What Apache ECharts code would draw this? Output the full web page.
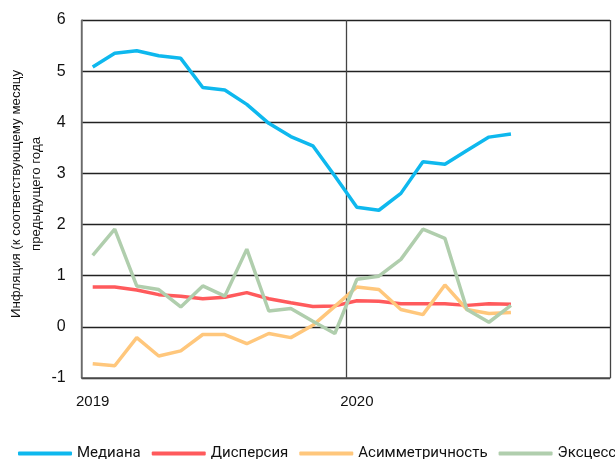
<!DOCTYPE html>
<html><head><meta charset="utf-8">
<script src="https://cdn.jsdelivr.net/npm/echarts@6/dist/echarts.min.js"></script>
<style>html,body{margin:0;padding:0;background:#fff}#c{width:615px;height:459px}</style>
</head><body><div id="c"></div>
<script>
const months = ['2019','','','','','','','','','','','','2020','','','','','','','','','','',''];
const mediana = [5.08,5.35,5.40,5.30,5.25,4.68,4.63,4.35,3.98,3.72,3.54,2.95,2.34,2.28,2.61,3.23,3.18,3.45,3.71,3.77];
const dispersiya = [0.78,0.78,0.72,0.63,0.60,0.55,0.58,0.67,0.55,0.47,0.40,0.41,0.51,0.50,0.45,0.45,0.45,0.42,0.45,0.44];
const asimm = [-0.72,-0.76,-0.21,-0.57,-0.47,-0.15,-0.15,-0.33,-0.13,-0.21,0.03,0.40,0.78,0.73,0.34,0.24,0.82,0.34,0.26,0.28];
const ekscess = [1.40,1.91,0.80,0.73,0.39,0.80,0.60,1.52,0.31,0.36,0.11,-0.13,0.93,0.99,1.32,1.91,1.73,0.34,0.09,0.42];
const seriesNames = ['Медиана','Дисперсия','Асимметричность','Эксцесс'];
const colors = ['#0EB8EE','#FF5A5C','#FFC77C','#B0CEAD'];
const yName = 'Инфляция (к соответствующему месяцу\nпредыдущего года';

const chart = echarts.init(document.getElementById('c'));
const mk = (i, d) => ({
  name: seriesNames[i], type: 'line', data: d, xAxisIndex: 0,
  symbol: 'none', smooth: false,
  lineStyle: {color: colors[i], width: 3.5}, itemStyle: {color: colors[i]}
});
chart.setOption({
  animation: false,
  grid: {left: 81.7, right: 5, top: 20, bottom: 81, containLabel: false, outerBoundsMode: 'none'},
  legend: {
    left: 13, top: 441, width: 800, itemWidth: 54, itemHeight: 4, itemGap: 11, icon: 'roundRect',
    textStyle: {fontFamily: 'Roboto', fontSize: 15, color: '#111'},
    data: seriesNames
  },
  xAxis: [{
    type: 'category', data: months, boundaryGap: true,
    axisLine: {show: false}, axisTick: {show: false},
    axisLabel: {interval: 0, fontFamily: 'Liberation Sans', fontSize: 15, color: '#111', margin: 16},
    splitLine: {show: false}
  }, {
    type: 'value', min: 0, max: 24, interval: 12, position: 'bottom',
    axisLine: {show: true, lineStyle: {color: '#555', width: 1.5}}, axisTick: {show: false},
    axisLabel: {show: false},
    splitLine: {show: true, lineStyle: {color: '#444', width: 1.3}}
  }],
  yAxis: {
    type: 'value', min: -1, max: 6, interval: 1,
    axisLine: {show: true, lineStyle: {color: '#777', width: 1.5}}, axisTick: {show: false},
    axisLabel: {fontFamily: 'Liberation Sans', fontSize: 16, color: '#111', margin: 16},
    splitLine: {lineStyle: {color: '#222', width: 1.3}},
    name: yName, nameLocation: 'middle', nameGap: 35, nameRotate: 90, nameMoveOverlap: false,
    nameTextStyle: {fontFamily: 'Liberation Sans', fontSize: 13.3, color: '#111', lineHeight: 20, padding: [0, 0, 0, 10]}
  },
  series: [mk(0, mediana), mk(1, dispersiya), mk(2, asimm), mk(3, ekscess)]
});
</script></body></html>
